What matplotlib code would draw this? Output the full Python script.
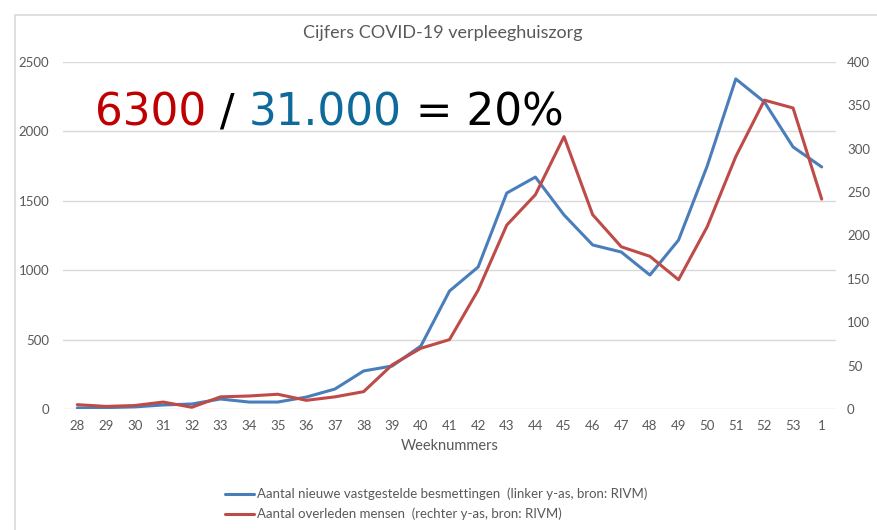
import numpy as np
import matplotlib.pyplot as plt
from matplotlib.patches import Rectangle

# week numbers (category axis)
weeks = ['28', '29', '30', '31', '32', '33', '34', '35', '36', '37', '38', '39', '40',
         '41', '42', '43', '44', '45', '46', '47', '48', '49', '50', '51', '52', '53', '1']

# new confirmed infections (left axis)
besmettingen = [7, 10, 15, 29, 36, 72, 50, 50, 86, 144, 274, 310, 454,
                850, 1023, 1556, 1671, 1398, 1182, 1131, 965, 1217, 1750, 2378, 2212, 1888, 1744]

# deaths (right axis)
overleden = [5, 3, 4, 8, 2, 14, 15, 17, 10, 14, 20, 51, 70,
             80, 137, 212, 247, 314, 224, 187, 176, 149, 210, 291, 356, 347, 242]

left_ticks = [0, 500, 1000, 1500, 2000, 2500]
right_ticks = [0, 50, 100, 150, 200, 250, 300, 350, 400]

font = ['Lato', 'DejaVu Sans']
grey = '#595959'
blue = '#4A7EBB'
red = '#BE4B48'

fig = plt.figure(figsize=(8.77, 5.30), dpi=100)
fig.patch.set_facecolor('white')

# light chart frame like the Excel chart area
fig.add_artist(Rectangle((15 / 877, -0.01), 1.0, 1 - 15 / 530 + 0.01,
                         transform=fig.transFigure, fill=False,
                         edgecolor='#D9D9D9', linewidth=1.2))

ax = fig.add_axes([63 / 877, (530 - 409) / 530, (836 - 63) / 877, (409 - 62) / 530])
ax2 = ax.twinx()

x = np.arange(len(weeks))
l1, = ax.plot(x, besmettingen, color=blue, linewidth=2.2, solid_capstyle='round', zorder=3)
l2, = ax2.plot(x, overleden, color=red, linewidth=2.2, solid_capstyle='round', zorder=3)

ax.set_xlim(-0.5, len(weeks) - 0.5)
ax.set_ylim(0, 2500)
ax2.set_ylim(0, 400)
ax.set_yticks(left_ticks)
ax2.set_yticks(right_ticks)
ax.set_xticks(x)
ax.set_xticklabels(weeks)

ax.grid(axis='y', color='#D9D9D9', linewidth=1)
ax.set_axisbelow(True)
for a in (ax, ax2):
    for s in a.spines.values():
        s.set_visible(False)
    a.tick_params(length=0, colors=grey, labelsize=9.5)
    for lab in a.get_xticklabels() + a.get_yticklabels():
        lab.set_family(font)
ax.tick_params(axis='x', pad=8)
ax.tick_params(axis='y', pad=10)
ax2.tick_params(axis='y', pad=8)

ax.set_xlabel('Weeknummers', color=grey, fontsize=10.5, family=font, labelpad=5)

fig.text(0.505, 0.937, 'Cijfers COVID-19 verpleeghuiszorg', ha='center', va='center',
         color=grey, fontsize=13, family=font)

# big annotation, coloured pieces placed one after another
txt_y = 1 - 125 / 530
pieces = [('6300', '#C00000'), (' / ', 'black'), ('31.000', '#0E6A9B'), (' = 20%', 'black')]
fig.canvas.draw()
r = fig.canvas.get_renderer()
xpos = 95 / 877
for s, c in pieces:
    t = fig.text(xpos, txt_y, s, color=c, fontsize=31.5, va='baseline')
    xpos = t.get_window_extent(r).x1 / fig.bbox.width

leg = fig.legend([l1, l2],
                 ['Aantal nieuwe vastgestelde besmettingen  (linker y-as, bron: RIVM)',
                  'Aantal overleden mensen  (rechter y-as, bron: RIVM)'],
                 loc='upper left', bbox_to_anchor=(213 / 877, 1 - 476 / 530),
                 frameon=False, handlelength=2.2, handletextpad=0.2,
                 labelspacing=0.55, prop={'family': font, 'size': 9.5})
for t in leg.get_texts():
    t.set_color(grey)

fig.savefig('out.png', dpi=100, facecolor='white')
